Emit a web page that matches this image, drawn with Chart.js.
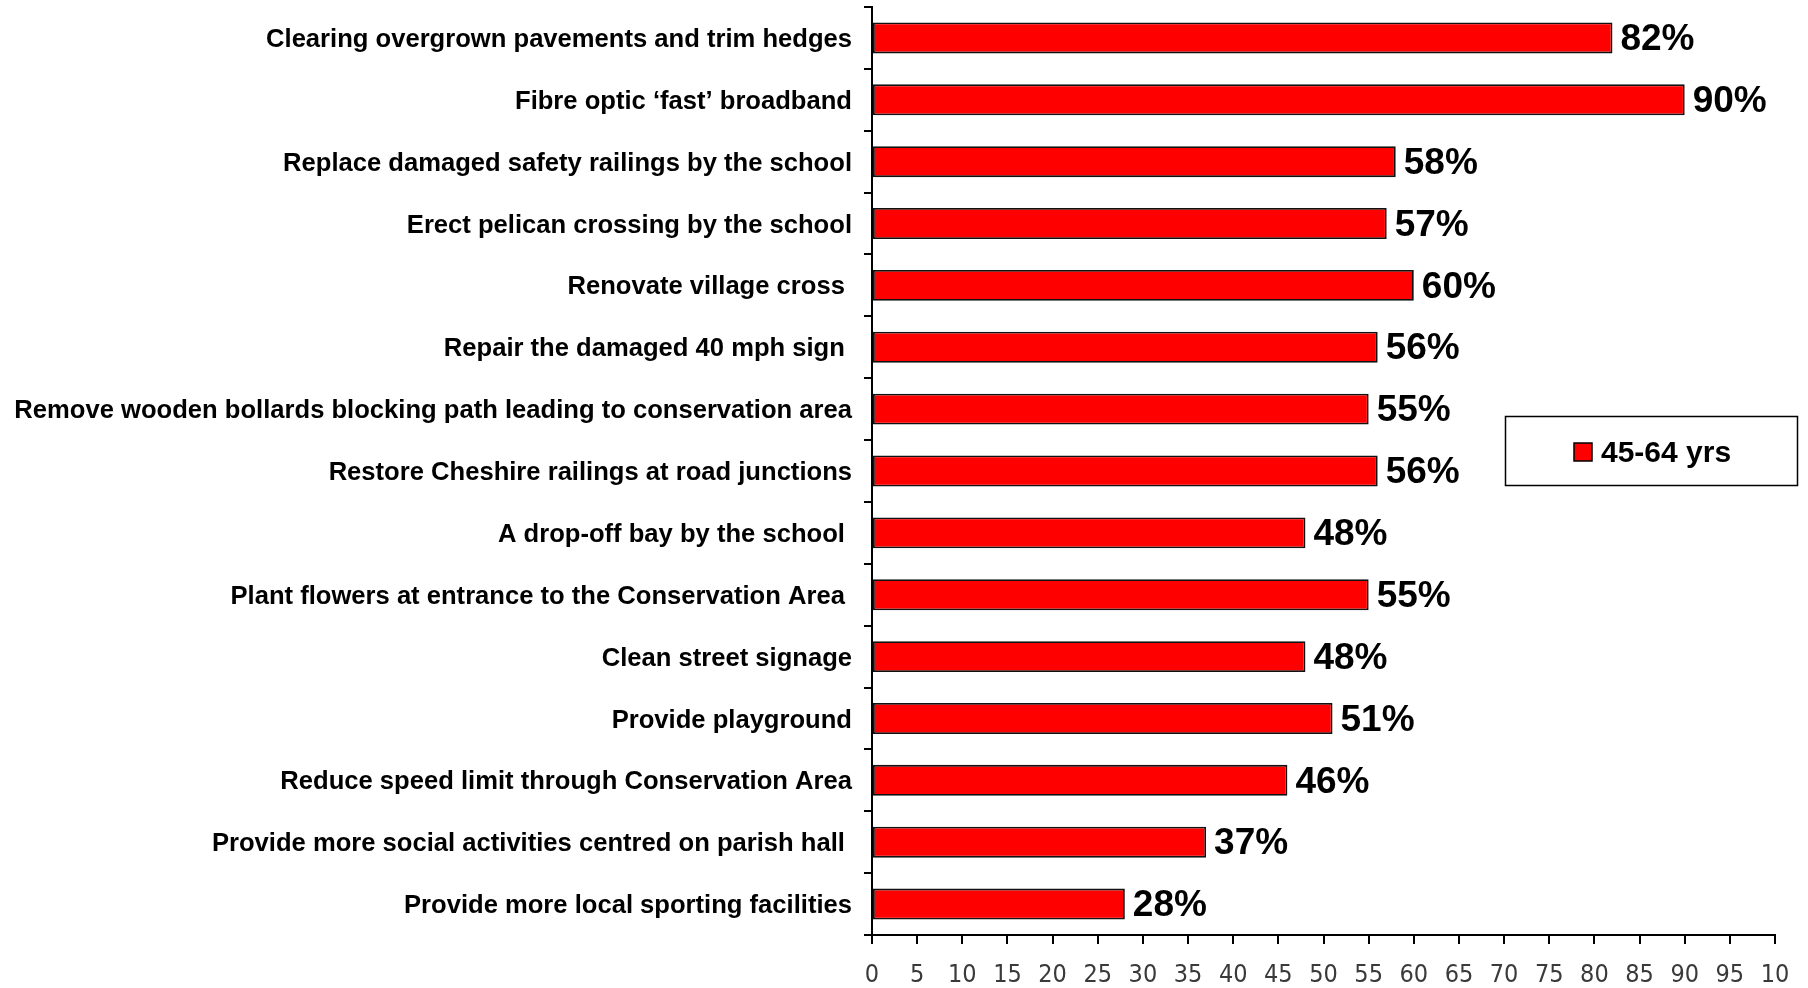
<!DOCTYPE html>
<html>
<head>
<meta charset="utf-8">
<script src="https://cdn.jsdelivr.net/npm/chart.js@4.4.1/dist/chart.umd.min.js"></script>
<style>
  html, body { margin: 0; padding: 0; background: #ffffff; overflow: hidden; }
  #wrap { width: 1808px; height: 988px; position: relative; }
  canvas { display: block; }
</style>
</head>
<body>
<div id="wrap"><canvas id="c" width="1808" height="988"></canvas></div>
<script>
// ---- Data ----
const categories = [
  "Clearing overgrown pavements and trim hedges",
  "Fibre optic \u2018fast\u2019 broadband",
  "Replace damaged safety railings by the school",
  "Erect pelican crossing by the school",
  "Renovate village cross ",
  "Repair the damaged 40 mph sign ",
  "Remove wooden bollards blocking path leading to conservation area",
  "Restore Cheshire railings at road junctions",
  "A drop-off bay by the school ",
  "Plant flowers at entrance to the Conservation Area ",
  "Clean street signage",
  "Provide playground",
  "Reduce speed limit through Conservation Area",
  "Provide more social activities centred on parish hall ",
  "Provide more local sporting facilities"
];
const values45to64 = [82, 90, 58, 57, 60, 56, 55, 56, 48, 55, 48, 51, 46, 37, 28];
const seriesName = "45-64 yrs";
const xTickLabels = ["0","5","10","15","20","25","30","35","40","45","50","55","60","65","70","75","80","85","90","95","10"];

const LABEL_FONT = "'Liberation Sans', Arial, sans-serif";
const AXIS_FONT = "'DejaVu Sans Condensed', 'DejaVu Sans', sans-serif";

// value labels at bar ends
const valueLabels = {
  id: 'valueLabels',
  afterDatasetsDraw(chart) {
    const ctx = chart.ctx;
    const meta = chart.getDatasetMeta(0);
    const data = chart.data.datasets[0].data;
    ctx.save();
    ctx.font = "bold 37px " + LABEL_FONT;
    ctx.fillStyle = "#000000";
    ctx.textAlign = "left";
    ctx.textBaseline = "middle";
    meta.data.forEach((bar, i) => {
      ctx.fillText(data[i] + "%", bar.x + 8, bar.y + 2);
    });
    ctx.restore();
  }
};

// boxed legend drawn from the dataset
const boxLegend = {
  id: 'boxLegend',
  afterDraw(chart) {
    const ctx = chart.ctx;
    const ds = chart.data.datasets[0];
    const bx = 1505.5, by = 416.5, bw = 292, bh = 69;
    ctx.save();
    ctx.fillStyle = "#ffffff";
    ctx.fillRect(bx, by, bw, bh);
    ctx.lineWidth = 1.5;
    ctx.strokeStyle = "#000000";
    ctx.strokeRect(bx, by, bw, bh);
    ctx.fillStyle = ds.backgroundColor;
    ctx.fillRect(1574, 443, 18, 18);
    ctx.strokeRect(1574, 443, 18, 18);
    ctx.fillStyle = "#000000";
    ctx.font = "bold 30px " + LABEL_FONT;
    ctx.textAlign = "left";
    ctx.textBaseline = "middle";
    ctx.fillText(ds.label, 1601, 454);
    ctx.restore();
  }
};

new Chart(document.getElementById('c'), {
  type: 'bar',
  data: {
    labels: categories,
    datasets: [{
      label: seriesName,
      data: values45to64,
      backgroundColor: "#ff0000",
      borderColor: "#111111",
      borderWidth: 1.8,
      borderSkipped: false,
      categoryPercentage: 1.0,
      barPercentage: 0.5
    }]
  },
  options: {
    indexAxis: 'y',
    responsive: false,
    animation: false,
    layout: { padding: { top: 7, right: 33, bottom: 0, left: 0 } },
    plugins: {
      legend: { display: false },
      tooltip: { enabled: false }
    },
    scales: {
      x: {
        type: 'linear',
        min: 0,
        max: 100,
        afterFit(s) { s.height = 53; s.paddingLeft = 0; s.paddingRight = 0; },
        border: { display: true, color: "#000000", width: 2 },
        grid: { drawOnChartArea: false, drawTicks: true, tickLength: 9, color: "#000000", lineWidth: 2 },
        ticks: {
          stepSize: 5,
          autoSkip: false,
          maxRotation: 0,
          minRotation: 0,
          padding: 16,
          color: "#3a3a3a",
          font: { family: AXIS_FONT, size: 25 },
          callback: (v, i) => xTickLabels[i]
        }
      },
      y: {
        type: 'category',
        afterFit(s) { s.width = 872; s.paddingTop = 0; s.paddingBottom = 0; },
        border: { display: true, color: "#000000", width: 2 },
        grid: { drawOnChartArea: false, drawTicks: true, tickLength: 8, color: "#000000", lineWidth: 2, offset: true },
        ticks: {
          autoSkip: false,
          padding: 12,
          labelOffset: 2,
          color: "#000000",
          font: { family: LABEL_FONT, size: 25.6, weight: 'bold' }
        }
      }
    }
  },
  plugins: [valueLabels, boxLegend]
});
</script>
</body>
</html>
